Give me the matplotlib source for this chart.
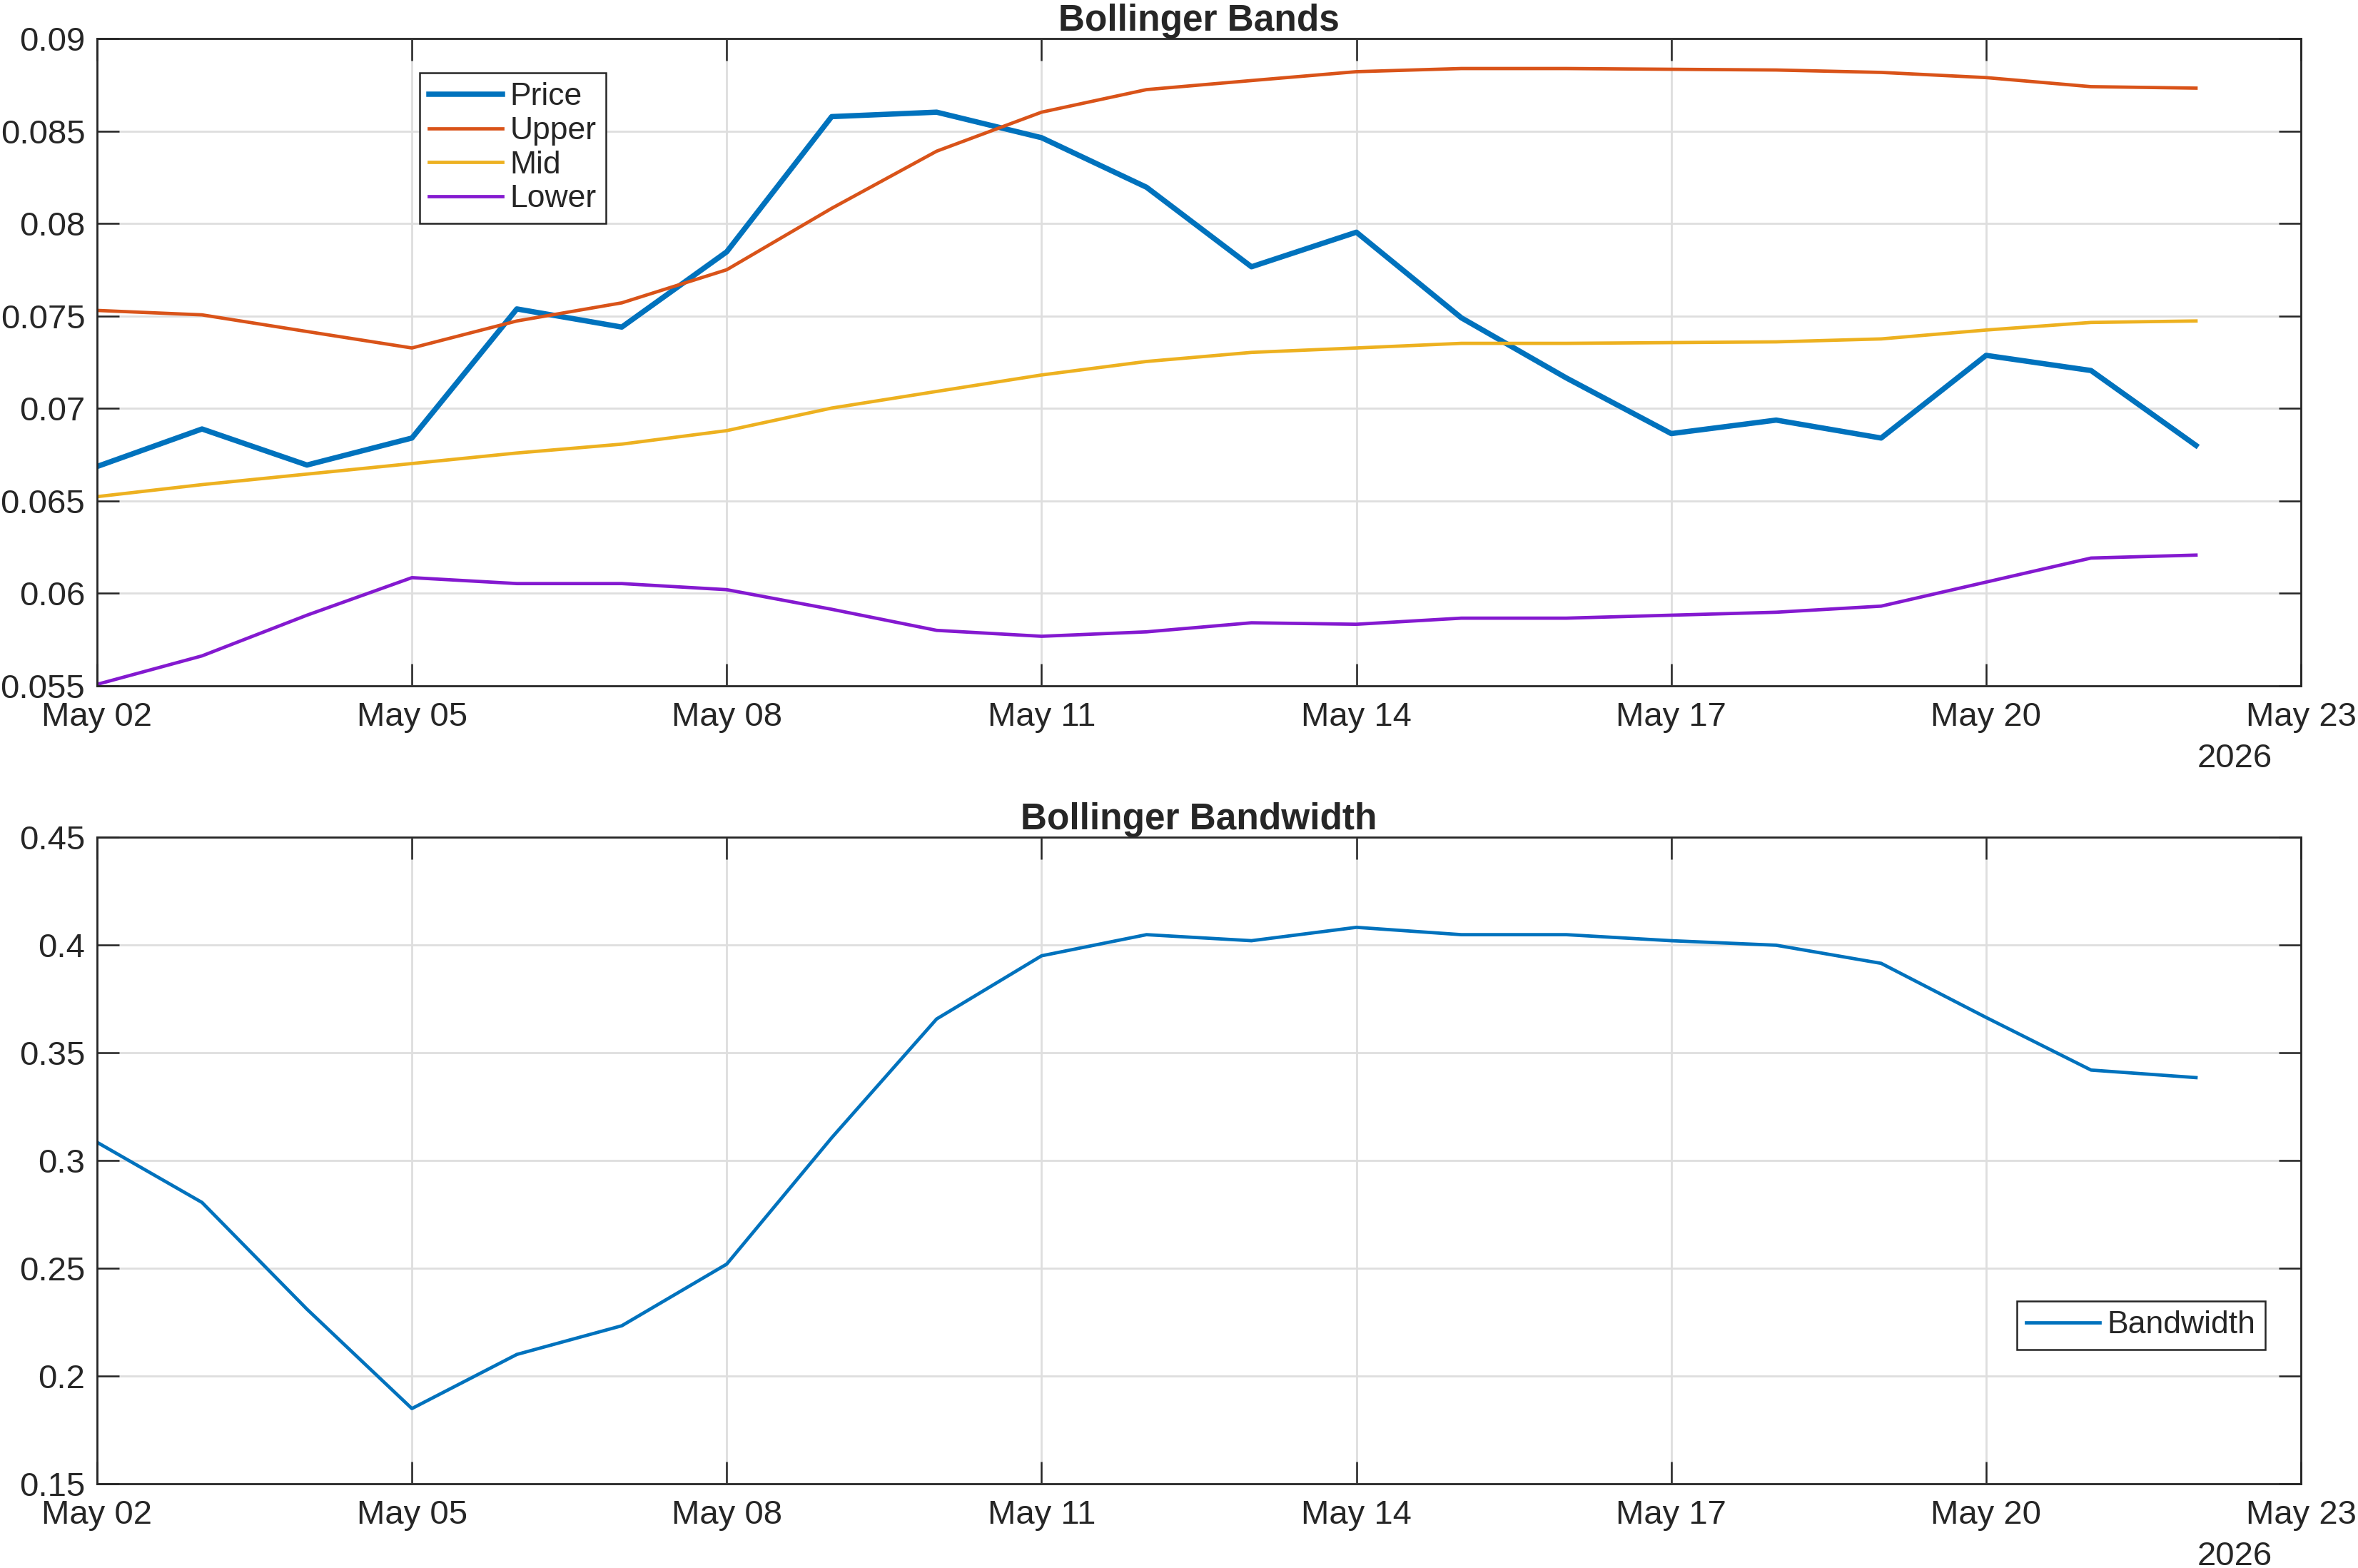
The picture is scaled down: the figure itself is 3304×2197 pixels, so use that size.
import matplotlib
matplotlib.use("Agg")
import matplotlib.pyplot as plt
import matplotlib.dates as mdates
from matplotlib.ticker import FuncFormatter
import numpy as np
import pandas as pd

# Data
dates = pd.date_range("2026-05-02", periods=21, freq="D")
price = [0.06686, 0.06889, 0.06694, 0.0684, 0.07538, 0.0744, 0.07847, 0.08578, 0.08602, 0.08464,
         0.08196, 0.07766, 0.07953, 0.0749, 0.07165, 0.06864, 0.06937, 0.0684, 0.07287, 0.07205, 0.068]
upper = [0.0753, 0.07506, 0.07416, 0.07327, 0.07473, 0.07571, 0.0775, 0.08082, 0.08391, 0.08602,
         0.08724, 0.08773, 0.08821, 0.08838, 0.08838, 0.08834, 0.0883, 0.08817, 0.08789, 0.0874, 0.08732]
mid = [0.06523, 0.06588, 0.06645, 0.06702, 0.06759, 0.06807, 0.0688, 0.07002, 0.07092, 0.07181,
       0.07254, 0.07303, 0.07327, 0.07352, 0.07352, 0.07356, 0.0736, 0.07376, 0.07424, 0.07465, 0.07473]
lower = [0.05508, 0.05662, 0.05882, 0.06085, 0.06053, 0.06053, 0.0602, 0.05914, 0.058, 0.05768,
         0.05792, 0.05841, 0.05833, 0.05866, 0.05866, 0.05882, 0.05898, 0.05931, 0.06061, 0.06191, 0.06207]
bandwidth = [0.3084, 0.2805, 0.231, 0.1849, 0.21, 0.2233, 0.2519, 0.3105, 0.3656, 0.3949,
             0.4047, 0.4019, 0.4081, 0.4047, 0.4047, 0.4019, 0.3998, 0.3914, 0.3663, 0.3419, 0.3384]

plt.rcParams['font.family'] = ['Liberation Sans', 'DejaVu Sans']

axcol = '#262626'
c_price = '#0072BD'
c_upper = '#D95319'
c_mid = '#EDB120'
c_lower = '#8419D0'

fig = plt.figure(figsize=(16.52, 10.985), dpi=200)
ax1 = fig.add_axes([0.04116, 0.5626, 0.93464, 0.4128])
ax2 = fig.add_axes([0.04116, 0.0537, 0.93464, 0.4125])


def style(ax, ylim, yticks):
    ax.set_xlim(pd.Timestamp("2026-05-02"), pd.Timestamp("2026-05-23"))
    ax.set_ylim(*ylim)
    ax.set_yticks(yticks)
    ax.yaxis.set_major_formatter(FuncFormatter(lambda v, p: "%g" % round(v, 4)))
    ax.xaxis.set_major_locator(mdates.DayLocator(bymonthday=[2, 5, 8, 11, 14, 17, 20, 23]))
    ax.xaxis.set_major_formatter(mdates.DateFormatter("%b %d"))
    ax.grid(True, color='#dedede', linewidth=1.0)
    ax.set_axisbelow(True)
    ax.tick_params(direction='in', length=11, width=0.9, color=axcol, labelcolor=axcol,
                   labelsize=17, top=True, right=True, pad=8)
    ax.tick_params(axis='y', pad=6)
    for s in ax.spines.values():
        s.set_color(axcol)
        s.set_linewidth(1.0)
    ax.text(0.987, -0.088, "2026", transform=ax.transAxes, ha='right', va='top',
            fontsize=17, color=axcol)


def legend(ax, **kw):
    leg = ax.legend(borderaxespad=0, fontsize=16, handlelength=2.3, handletextpad=0.25,
                    labelspacing=0.15, borderpad=0.3, fancybox=False, framealpha=1,
                    edgecolor=axcol, **kw)
    leg.get_frame().set_linewidth(0.9)
    for t in leg.get_texts():
        t.set_color(axcol)
    return leg


ax1.plot(dates, price, color=c_price, lw=2.7, label='Price')
ax1.plot(dates, upper, color=c_upper, lw=1.7, label='Upper')
ax1.plot(dates, mid, color=c_mid, lw=1.7, label='Mid')
ax1.plot(dates, lower, color=c_lower, lw=1.7, label='Lower')
style(ax1, (0.055, 0.09), np.arange(0.055, 0.0901, 0.005))
ax1.set_title("Bollinger Bands", fontsize=18.5, fontweight='bold', color=axcol, pad=4)
legend(ax1, loc='upper left', bbox_to_anchor=(0.1464, 0.947))

ax2.plot(dates, bandwidth, color=c_price, lw=1.7, label='Bandwidth')
style(ax2, (0.15, 0.45), np.arange(0.15, 0.4501, 0.05))
ax2.set_title("Bollinger Bandwidth", fontsize=18.5, fontweight='bold', color=axcol, pad=4)
legend(ax2, loc='upper right', bbox_to_anchor=(0.9838, 0.2826))

fig.savefig("out.png", dpi=200)
